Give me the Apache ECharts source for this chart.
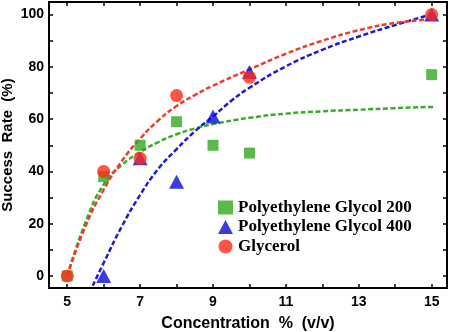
<!DOCTYPE html>
<html>
<head>
<meta charset="utf-8">
<script src="https://cdn.jsdelivr.net/npm/echarts@6/dist/echarts.min.js"></script>
<style>
  html, body { margin: 0; padding: 0; background: #fff; }
  #chart { width: 451px; height: 332px; }
</style>
</head>
<body>
<div id="chart"></div>
<script>
// measured points
var peg200 = [[5, 0], [6, 38], [7, 50], [8, 59], [9, 50], [10, 47], [15, 77]];
var peg400 = [[6, 0], [7, 45], [8, 36], [9, 61], [10, 78], [15, 100]];
var glycerol = [[5, 0], [6, 40], [7, 45], [8, 69], [10, 76], [15, 100]];

// fitted curves
var fit200 = [[5, 0], [5.5, 20.5], [6, 35], [6.5, 42.5], [7, 47.4], [7.5, 51.2], [8, 54.2], [8.5, 56.4],
  [9, 58.1], [10, 60.5], [11, 62.1], [12, 63], [13, 63.6], [14, 64.2], [15.1, 64.7]];
var fit400 = [[5.7, -3.7], [6, 5], [6.5, 19], [7, 31], [7.5, 41], [8, 48.5], [8.5, 55.3], [9, 61],
  [9.5, 67], [10, 72], [11, 80.2], [12, 86.5], [13, 91.6], [14, 96], [15.1, 100.5]];
var fitGly = [[5, 0], [5.5, 19], [6, 33], [6.5, 44], [7, 52.5], [7.5, 59.5], [8, 65], [8.5, 69.2],
  [9, 72.8], [10, 79], [11, 85], [12, 90], [13, 94], [14, 96.8], [15.1, 98.3]];

var xTicks = [5, 6, 7, 8, 9, 10, 11, 12, 13, 14, 15];
var xLabels = [5, 7, 9, 11, 13, 15];
var yTicks = [0, 10, 20, 30, 40, 50, 60, 70, 80, 90, 100];
var yLabels = [0, 20, 40, 60, 80, 100];

function renderChart() {
    var dom = document.getElementById('chart');
    var myChart = echarts.init(dom);

    var frame = { show: true, onZero: false, lineStyle: { color: '#000', width: 2 } };
    var tickX = { show: true, inside: true, length: 4, customValues: xTicks, lineStyle: { color: '#000', width: 1.5 } };
    var tickY = { show: true, inside: true, length: 4, customValues: yTicks, lineStyle: { color: '#000', width: 1.5 } };
    var labelFont = { color: '#000', fontSize: 14, fontWeight: 'bold', fontFamily: 'Liberation Sans' };
    var dash = [5, 2.5];

    var option = {
        backgroundColor: '#FFFFFF',
        animation: false,
        grid: { left: 49, right: 4, top: 2, bottom: 44, outerBoundsMode: 'none', containLabel: false },
        legend: {
            orient: 'vertical',
            left: 213,
            top: 194,
            itemWidth: 15,
            itemHeight: 14,
            itemGap: 2.5,
            data: ['Polyethylene Glycol 200', 'Polyethylene Glycol 400', 'Glycerol'],
            textStyle: { color: '#000', fontSize: 17, fontWeight: 'bold', fontFamily: 'Liberation Serif' }
        },
        xAxis: [{
            type: 'value',
            min: 4.5,
            max: 15.42,
            name: 'Concentration  %  (v/v)',
            nameLocation: 'middle',
            nameGap: 28,
            nameMoveOverlap: false,
            nameTextStyle: { color: '#000', fontSize: 16, fontWeight: 'bold', fontFamily: 'Liberation Sans' },
            axisLine: frame,
            axisTick: tickX,
            axisLabel: Object.assign({ customValues: xLabels, margin: 7 }, labelFont),
            splitLine: { show: false }
        }, {
            type: 'value',
            position: 'top',
            min: 4.5,
            max: 15.42,
            axisLine: frame,
            axisTick: tickX,
            axisLabel: { show: false },
            splitLine: { show: false }
        }],
        yAxis: [{
            type: 'value',
            min: -4.6,
            max: 104.8,
            name: 'Success  Rate  (%)',
            nameLocation: 'middle',
            nameGap: 34,
            nameMoveOverlap: false,
            nameTextStyle: { color: '#000', fontSize: 15, fontWeight: 'bold', fontFamily: 'Liberation Sans' },
            axisLine: frame,
            axisTick: tickY,
            axisLabel: Object.assign({ customValues: yLabels, margin: 5 }, labelFont),
            splitLine: { show: false }
        }, {
            type: 'value',
            position: 'right',
            min: -4.6,
            max: 104.8,
            axisLine: frame,
            axisTick: tickY,
            axisLabel: { show: false },
            splitLine: { show: false }
        }],
        series: [{
            name: 'fit200',
            type: 'line',
            data: fit200,
            smooth: true,
            showSymbol: false,
            lineStyle: { color: '#3aab2a', width: 2.5, type: dash },
            z: 1
        }, {
            name: 'fit400',
            type: 'line',
            data: fit400,
            smooth: true,
            showSymbol: false,
            lineStyle: { color: '#1a1ad8', width: 2.5, type: dash },
            z: 1
        }, {
            name: 'fitGly',
            type: 'line',
            data: fitGly,
            smooth: true,
            showSymbol: false,
            lineStyle: { color: '#f23a2a', width: 2.5, type: dash },
            z: 1
        }, {
            name: 'Polyethylene Glycol 200',
            type: 'scatter',
            data: peg200,
            symbol: 'rect',
            symbolSize: 11,
            itemStyle: { color: '#33a822' },
            z: 3
        }, {
            name: 'Polyethylene Glycol 400',
            type: 'scatter',
            data: peg400,
            symbol: 'triangle',
            symbolSize: [15, 14],
            itemStyle: { color: '#0a0ad8' },
            z: 4
        }, {
            name: 'Glycerol',
            type: 'scatter',
            data: glycerol,
            symbol: 'circle',
            symbolSize: 13,
            itemStyle: { color: '#ff2a1a' },
            z: 5
        }]
    };

    myChart.setOption(option);
}
renderChart();
</script>
</body>
</html>
